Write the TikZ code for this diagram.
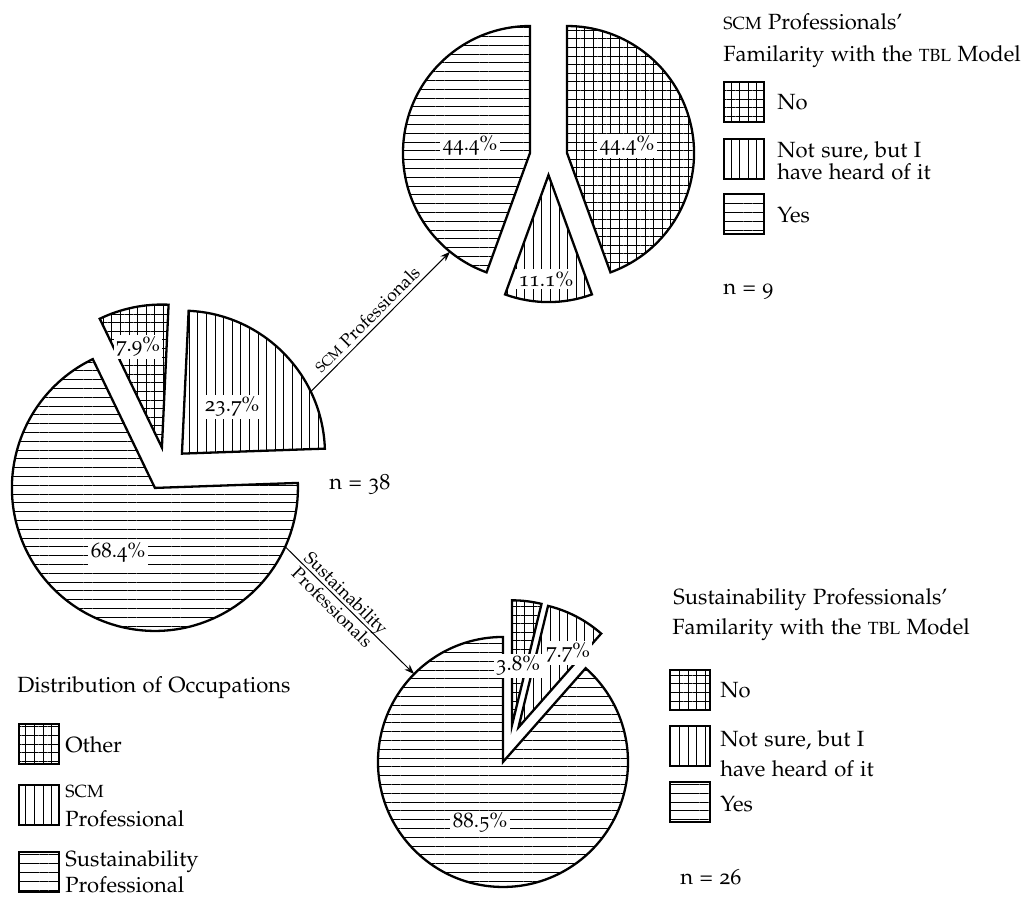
\documentclass[tikz,border=0pt]{standalone}
\usepackage[T1]{fontenc}
\usepackage[osf]{mathpazo}
\usetikzlibrary{patterns.meta,calc,arrows.meta}

% acronyms set in reduced capitals
\newcommand\acr[1]{\scalebox{0.8}{#1}}

\tikzset{
  slice/.style={draw, line width=1.15pt, line join=miter},
  hlines/.style={pattern={Lines[angle=0,distance=4.4pt,line width=0.5pt]}},
  vlines/.style={pattern={Lines[angle=90,distance=4.3pt,line width=0.5pt]}},
  gridfill/.style={preaction={pattern={Lines[angle=0,distance=4.3pt,line width=0.5pt]}},
                   pattern={Lines[angle=90,distance=4.3pt,line width=0.5pt]}},
  pct/.style={fill=white, inner sep=1.2pt, font=\fontsize{10.5}{12.6}\selectfont},
  legtext/.style={anchor=base west, inner sep=0pt},
  legbox/.style={draw, line width=0.8pt, minimum size=20pt, inner sep=0pt, anchor=south west},
  flow/.style={-{Stealth[length=5pt,width=3.6pt]}, line width=0.5pt},
  flowlabel/.style={font=\fontsize{9}{10}\selectfont, sloped}
}

% exploded pie slice: name, centre, radius, explode distance, from, to, fill style
\newcommand\drawslice[7]{%
  \coordinate (#1) at ($(#2)+({(#5+#6)/2}:#4)$);
  \draw[slice,#7] (#1) -- ($(#1)+(#5:#3)$) arc[start angle=#5, end angle=#6, radius=#3] -- cycle;
}

\begin{document}
\begin{tikzpicture}[x=0.5pt, y=0.5pt, font=\fontsize{11}{13.2}\selectfont]
\useasboundingbox (0,0) rectangle (1029,899);

% pie centres
\coordinate (occ) at (166.3,429.9);
\coordinate (scm) at (548.5,742.7);
\coordinate (sus) at (509.7,154.8);

% distribution of occupations (n = 38)
\drawslice{occSCM}{occ}{143}{22}{2}{87.32}{vlines}
\drawslice{occOther}{occ}{143}{22}{87.32}{115.76}{gridfill}
\drawslice{occSus}{occ}{143}{22}{115.76}{362}{hlines}

% SCM professionals (n = 9)
\drawslice{scmNo}{scm}{127}{18.8}{-70}{90}{gridfill}
\drawslice{scmYes}{scm}{127}{18.8}{90}{250}{hlines}
\drawslice{scmUnsure}{scm}{127}{18.8}{250}{290}{vlines}

% sustainability professionals (n = 26)
\drawslice{susNo}{sus}{125}{19}{76.32}{90}{gridfill}
\drawslice{susUnsure}{sus}{125}{19}{48.6}{76.32}{vlines}
\drawslice{susYes}{sus}{125}{19}{90}{408.6}{hlines}

% percentages
\node[pct] (pOccSCM) at (232,492) {23.7\%};
\node[pct] (pOccOther) at (138,552) {7.9\%};
\node[pct] (pOccSus) at (118,346) {68.4\%};
\node[pct] (pScmYes) at (470,753) {44.4\%};
\node[pct] (pScmNo) at (627,753) {44.4\%};
\node[pct] (pScmUnsure) at (546,620) {11.1\%};
\node[pct] (pSusNo) at (518,233) {3.8\%};
\node[pct] (pSusUnsure) at (568,246) {7.7\%};
\node[pct] (pSusYes) at (480,76) {88.5\%};

% flows between the charts
\coordinate (a1s) at ($(occSCM)+(25.7:143)$);
\coordinate (a1e) at ($(scmYes)+(231:127)$);
\draw[flow] (a1s) -- node[flowlabel, above, pos=0.46, inner sep=2pt] (lblSCM) {\acr{SCM} Professionals} (a1e);

\coordinate (a2s) at ($(occSus)+(-24.3:143)$);
\coordinate (a2e) at ($(susYes)+(135.3:125)$);
\draw[flow] (a2s) -- node[flowlabel, pos=0.42, align=center, inner sep=0pt] (lblSus) {Sustainability\\Professionals} (a2e);

% sample sizes
\node[legtext] (nOcc) at (329,409) {n = 38};
\node[legtext] (nScm) at (723,604) {n = 9};
\node[legtext] (nSus) at (680,14) {n = 26};

% legend: SCM professionals
\node[legtext] (tScm1) at (723,869) {\acr{SCM} Professionals'};
\node[legtext] (tScm2) at (723,837) {Familarity with the \acr{TBL} Model};
\node[legbox, gridfill] (kScmNo) at (723,776) {};
\node[legbox, vlines] (kScmUnsure) at (723,719) {};
\node[legbox, hlines] (kScmYes) at (723,664) {};
\node[legtext] (lScmNo) at (777,789) {No};
\node[legtext] (lScmUnsure1) at (777,741) {Not sure, but I};
\node[legtext] (lScmUnsure2) at (777,719) {have heard of it};
\node[legtext] (lScmYes) at (777,676) {Yes};

% legend: sustainability professionals
\node[legtext] (tSus1) at (673,294) {Sustainability Professionals'};
\node[legtext] (tSus2) at (672,264) {Familarity with the \acr{TBL} Model};
\node[legbox, gridfill] (kSusNo) at (669,188) {};
\node[legbox, vlines] (kSusUnsure) at (669,132) {};
\node[legbox, hlines] (kSusYes) at (669,76) {};
\node[legtext] (lSusNo) at (720,201) {No};
\node[legtext] (lSusUnsure1) at (720,152) {Not sure, but I};
\node[legtext] (lSusUnsure2) at (720,122) {have heard of it};
\node[legtext] (lSusYes) at (720,87) {Yes};

% legend: occupations
\node[legtext] (tOcc) at (17,206) {Distribution of Occupations};
\node[legbox, gridfill] (kOther) at (18,134) {};
\node[legbox, vlines] (kSCM) at (18,73) {};
\node[legbox, hlines] (kSus) at (18,6) {};
\node[legtext] (lOther) at (65,146) {Other};
\node[legtext] (lSCM1) at (65,101) {\acr{SCM}};
\node[legtext] (lSCM2) at (65,72) {Professional};
\node[legtext] (lSus1) at (65,32) {Sustainability};
\node[legtext] (lSus2) at (65,6) {Professional};
\end{tikzpicture}
\end{document}
